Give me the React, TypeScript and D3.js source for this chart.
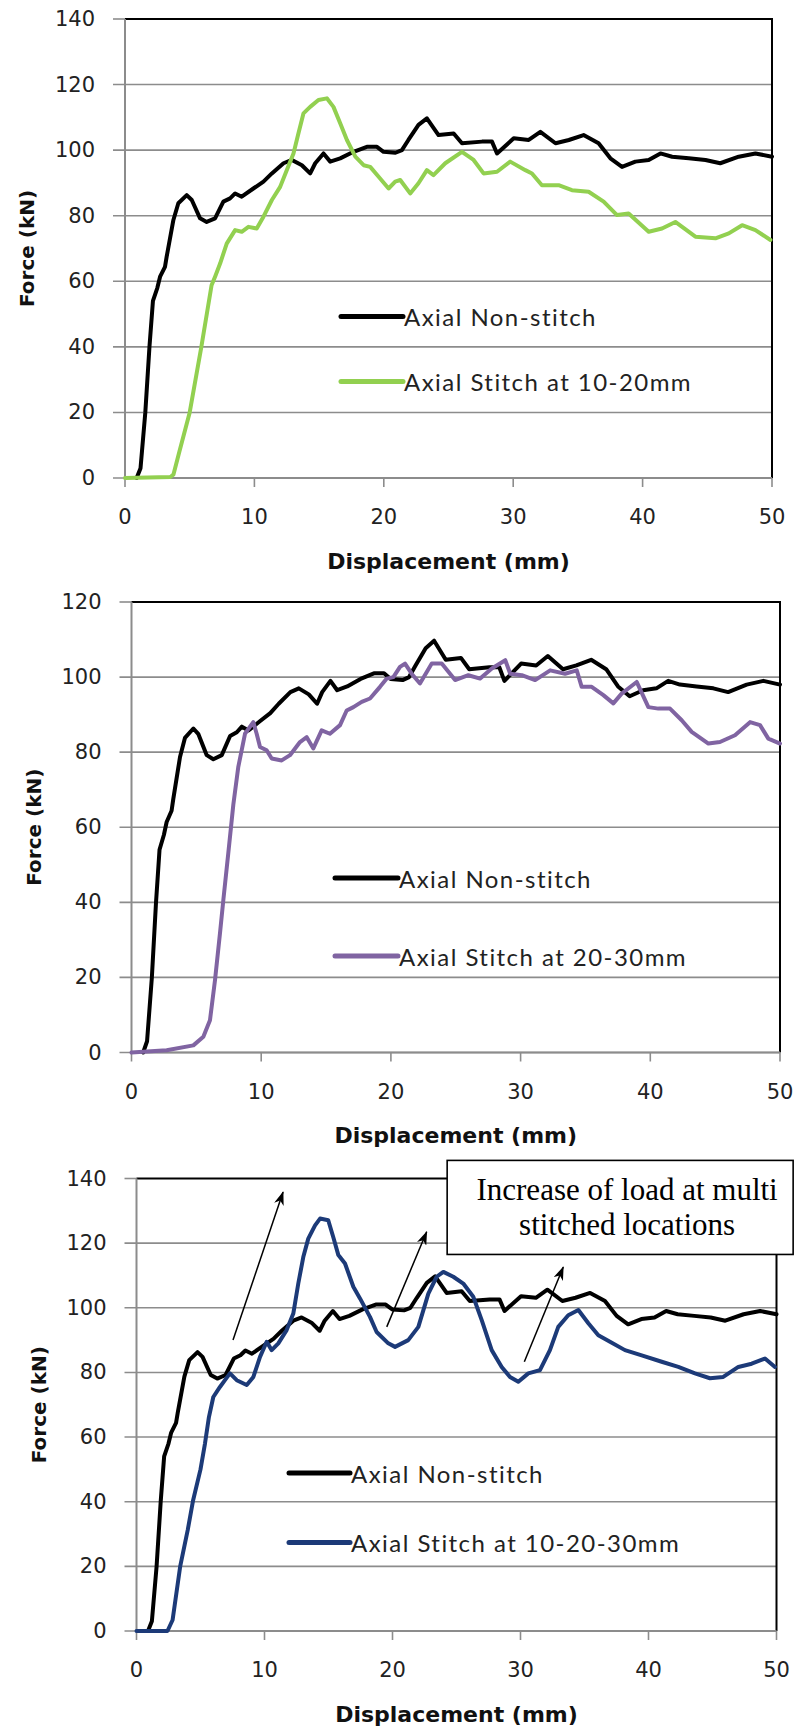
import React from 'react'
import * as d3 from 'd3'

// force-displacement curves (x in mm, y in kN)
const nonStitch: [number, number][] = [
  [0.9, 0], [1.2, 3], [1.57, 20], [1.89, 40], [2.16, 54], [2.5, 58], [2.71, 61.4], [3.09, 64.4],
  [3.22, 67.5], [3.74, 78.7], [4.12, 83.8], [4.77, 86.3], [5.16, 84.8], [5.8, 79.2], [6.31, 78.1],
  [6.96, 79.2], [7.6, 84.3], [8.12, 85.3], [8.51, 86.8], [9.02, 85.8], [9.92, 88.3], [10.7, 90.4],
  [11.35, 92.9], [12.25, 96.0], [12.9, 97.0], [13.67, 95.4], [14.31, 92.9], [14.7, 96.0],
  [15.34, 99.0], [15.86, 96.5], [16.63, 97.5], [17.66, 99.5], [18.69, 101.0], [19.47, 101.0],
  [19.98, 99.5], [20.9, 99.2], [21.4, 100], [21.9, 103.1], [22.68, 107.7], [23.33, 109.7],
  [24.23, 104.6], [25.4, 105.1], [26.04, 102.1], [27.59, 102.6], [28.36, 102.6], [28.75, 99.0],
  [30.04, 103.6], [31.2, 103.1], [32.1, 105.6], [33.27, 102.1], [34.3, 103.1], [35.44, 104.6],
  [36.6, 102.1], [37.51, 97.5], [38.41, 94.9], [39.44, 96.5], [40.47, 97.0], [41.38, 99.0],
  [42.28, 98.0], [43.57, 97.5], [44.86, 97.0], [46.0, 96.0], [47.43, 98.0], [48.72, 99.0], [50, 98.0],
]

const stitch1020: [number, number][] = [
  [0, 0], [3.5, 0.3], [3.74, 1], [4.2, 8], [5.0, 20], [5.9, 40], [6.69, 58.8], [6.96, 61.4],
  [7.35, 65.4], [7.86, 71.5], [8.51, 75.6], [9.02, 75.1], [9.54, 76.6], [10.18, 76.1], [10.7, 79.7],
  [11.35, 84.8], [11.99, 88.8], [12.5, 93.9], [13.02, 99.0], [13.4, 105.1], [13.79, 111.2],
  [14.31, 113.2], [14.95, 115.3], [15.6, 115.8], [16.11, 113.2], [16.63, 108.2], [17.15, 103.1],
  [17.8, 98.0], [18.44, 95.4], [18.95, 94.9], [19.6, 91.9], [20.37, 88.3], [20.88, 90.4],
  [21.27, 90.9], [22.04, 86.8], [22.68, 89.9], [23.33, 93.9], [23.84, 92.4], [24.75, 96.0],
  [26.04, 99.5], [26.94, 97.0], [27.71, 92.9], [28.75, 93.4], [29.77, 96.5], [30.94, 93.9],
  [31.45, 92.9], [32.22, 89.3], [33.51, 89.3], [34.54, 87.8], [35.83, 87.3], [36.99, 84.3],
  [38.02, 80.2], [38.92, 80.7], [40.47, 75.1], [41.5, 76.1], [42.53, 78.1], [44.08, 73.6],
  [45.63, 73.1], [46.66, 74.6], [47.69, 77.1], [48.72, 75.6], [49.88, 72.6],
]

const stitch2030: [number, number][] = [
  [0, 0], [2.71, 0.6], [4.77, 1.9], [5.54, 4.2], [6.05, 8.6], [6.44, 19.3], [6.82, 31.7],
  [7.08, 40.6], [7.46, 53.0], [7.85, 66], [8.23, 76], [8.75, 84.9], [9.39, 88.0], [9.65, 84.9],
  [9.91, 81.4], [10.42, 80.5], [10.81, 78.3], [11.58, 77.8], [12.22, 79.2], [12.99, 82.7],
  [13.51, 84.0], [14.02, 81.0], [14.66, 85.8], [15.3, 84.9], [16.08, 87.2], [16.59, 91.1],
  [17.11, 92.0], [17.75, 93.4], [18.39, 94.3], [19.16, 97.4], [19.68, 99.6], [20.19, 100.0],
  [20.7, 102.7], [21.09, 103.6], [21.6, 100.9], [22.24, 98.3], [23.15, 103.6], [23.92, 103.6],
  [24.95, 99.2], [25.97, 100.5], [26.88, 99.6], [27.78, 102.3], [28.82, 104.5], [29.2, 100.9],
  [30.09, 100.5], [31.12, 99.2], [32.28, 101.8], [33.43, 100.9], [34.33, 101.8], [34.71, 97.4],
  [35.48, 97.4], [36.38, 95.2], [37.15, 93.0], [37.79, 95.6], [38.95, 98.7], [39.85, 92.0],
  [40.62, 91.6], [41.52, 91.6], [42.42, 88.5], [43.19, 85.4], [44.48, 82.3], [45.37, 82.7],
  [46.53, 84.5], [47.69, 88.0], [48.46, 87.2], [49.1, 83.6], [50, 82.3],
]

const stitch102030: [number, number][] = [
  [0, 0], [2.42, 0], [2.82, 3.4], [3.41, 19.9], [4.0, 31.2], [4.41, 40.2], [5.0, 50], [5.35, 58],
  [5.65, 66], [6.0, 72.4], [6.52, 75.5], [6.91, 77.6], [7.3, 79.7], [7.83, 77.6], [8.61, 76.1],
  [9.13, 78.6], [9.65, 84.8], [10.17, 89.5], [10.56, 86.9], [11.08, 89.0], [11.73, 93.1],
  [12.25, 98.2], [12.64, 107.5], [13.03, 115.7], [13.42, 121.4], [13.95, 125.5], [14.34, 127.6],
  [14.98, 127.1], [15.37, 121.9], [15.77, 116.3], [16.29, 113.7], [16.94, 106.5], [17.46, 102.9],
  [18.24, 97.2], [18.76, 92.5], [19.67, 89.0], [20.2, 87.9], [21.23, 90.0], [22.02, 94.1],
  [22.8, 104.4], [23.45, 109.6], [23.97, 111.1], [24.75, 109.6], [25.53, 107.5], [26.31, 103.4],
  [26.97, 96.2], [27.75, 86.9], [28.53, 81.7], [29.18, 78.6], [29.83, 77.1], [30.61, 79.7],
  [31.52, 80.7], [32.3, 86.9], [32.95, 94.1], [33.73, 97.7], [34.52, 99.3], [35.3, 95.2],
  [36.08, 91.5], [36.99, 89.5], [38.16, 86.9], [39.47, 85.3], [41.03, 83.3], [42.33, 81.7],
  [43.63, 79.7], [44.8, 78.2], [45.84, 78.6], [47.02, 81.7], [48.06, 82.7], [49.1, 84.3], [49.88, 81.7],
]

const xTicks = [0, 10, 20, 30, 40, 50]
const yTicks140 = [0, 20, 40, 60, 80, 100, 120, 140]
const yTicks120 = [0, 20, 40, 60, 80, 100, 120]

const nonStitchLabel = 'Axial Non-stitch'
const xTitle = 'Displacement (mm)'
const yTitle = 'Force (kN)'
const noteLines = ['Increase of load at multi', 'stitched locations']

// annotation arrows in data units of the third chart: [x0, y0, x1, y1]
const noteArrows = [
  [7.54, 90.0, 11.45, 135.8],
  [19.55, 94.1, 22.67, 123.5],
  [30.3, 83.3, 33.34, 112.6],
]
// note box in data units: x from, x to, y top, y bottom
const noteBox = [24.27, 51.3, 145.6, 116.5]

const panels = [
  {
    left: 125, top: 19, right: 772, bottom: 478, yMax: 140, yTicks: yTicks140,
    data: stitch1020, color: '#92d050', label: 'Axial Stitch at 10-20mm',
    legend: { x: 341, y: 316.5, gap: 65, len: 62 }, note: false,
  },
  {
    left: 131.5, top: 602, right: 780, bottom: 1052.5, yMax: 120, yTicks: yTicks120,
    data: stitch2030, color: '#8064a2', label: 'Axial Stitch at 20-30mm',
    legend: { x: 335, y: 878, gap: 78, len: 63 }, note: false,
  },
  {
    left: 136.5, top: 1178.5, right: 776.5, bottom: 1631, yMax: 140, yTicks: yTicks140,
    data: stitch102030, color: '#1c3a78', label: 'Axial Stitch at 10-20-30mm',
    legend: { x: 289, y: 1473, gap: 69.5, len: 61 }, note: true,
  },
]

const gridColor = '#8c8c8c'
const tickFont = '"DejaVu Sans", Verdana, sans-serif'
const legendFont = 'Lato, "Open Sans", sans-serif'

const Panel = ({ p }: { p: typeof panels[number] }) => {
  const x = d3.scaleLinear().domain([0, 50]).range([p.left, p.right])
  const y = d3.scaleLinear().domain([0, p.yMax]).range([p.bottom, p.top])
  const lineGen = d3.line<[number, number]>()
    .x(d => x(d[0]))
    .y(d => y(d[1]))
  const midX = (p.left + p.right) / 2
  const midY = (p.top + p.bottom) / 2

  return (
    <g>
      {/* horizontal grid + y ticks */}
      {p.yTicks.map(t => (
        <g key={'y' + t}>
          <line x1={p.left - 12} x2={t === p.yMax ? p.left : p.right} y1={y(t)} y2={y(t)}
            stroke={gridColor} strokeWidth={1.6} />
          <text x={p.left - 30} y={y(t)} textAnchor='end' dominantBaseline='central'
            fontFamily={tickFont} fontSize={21} fill='#222'>{t}</text>
        </g>
      ))}
      {/* plot border: black top/right */}
      <path d={`M${p.left},${p.top}H${p.right}V${p.bottom}`} fill='none' stroke='#000' strokeWidth={2} />
      {/* axes */}
      <line x1={p.left} x2={p.left} y1={p.top} y2={p.bottom} stroke={gridColor} strokeWidth={2} />
      <line x1={p.left} x2={p.right} y1={p.bottom} y2={p.bottom} stroke={gridColor} strokeWidth={2} />
      {xTicks.map(t => (
        <g key={'x' + t}>
          <line x1={x(t)} x2={x(t)} y1={p.bottom} y2={p.bottom + 9} stroke={gridColor} strokeWidth={1.6} />
          <text x={x(t)} y={p.bottom + 39} textAnchor='middle' dominantBaseline='central'
            fontFamily={tickFont} fontSize={21} fill='#222'>{t}</text>
        </g>
      ))}

      {/* series */}
      <path d={lineGen(nonStitch) ?? ''} fill='none' stroke='#000' strokeWidth={4}
        strokeLinejoin='round' strokeLinecap='round' />
      <path d={lineGen(p.data) ?? ''} fill='none' stroke={p.color} strokeWidth={4}
        strokeLinejoin='round' strokeLinecap='round' />

      {/* legend */}
      {[{ c: '#000', t: nonStitchLabel }, { c: p.color, t: p.label }].map((it, i) => (
        <g key={'lg' + i} transform={`translate(${p.legend.x},${p.legend.y + i * p.legend.gap})`}>
          <line x1={0} x2={p.legend.len} stroke={it.c} strokeWidth={5} strokeLinecap='round' />
          <text x={p.legend.len + 1} y={0} dominantBaseline='central' fontFamily={legendFont}
            fontSize={24} letterSpacing={1.45} fill='#222'>{it.t}</text>
        </g>
      ))}

      {/* axis titles */}
      <text x={midX} y={p.bottom + 83} textAnchor='middle' dominantBaseline='central'
        fontFamily={tickFont} fontWeight='bold' fontSize={22} fill='#111'>{xTitle}</text>
      <text transform={`translate(${p.left - 98},${midY}) rotate(-90)`} textAnchor='middle'
        dominantBaseline='central' fontFamily={tickFont} fontWeight='bold' fontSize={20}
        fill='#111'>{yTitle}</text>

      {p.note && (
        <g>
          {noteArrows.map((a, i) => (
            <line key={'ar' + i} x1={x(a[0])} y1={y(a[1])} x2={x(a[2])} y2={y(a[3])}
              stroke='#000' strokeWidth={1.5} markerEnd='url(#arrowHead)' />
          ))}
          <rect x={x(noteBox[0])} y={y(noteBox[2])} width={x(noteBox[1]) - x(noteBox[0])}
            height={y(noteBox[3]) - y(noteBox[2])} fill='#fff' stroke='#000' strokeWidth={1.6} />
          {noteLines.map((t, i) => (
            <text key={'nt' + i} x={x(38.33)} y={y(noteBox[2]) + 40 + i * 35} textAnchor='middle'
              fontFamily='"Liberation Serif", "Times New Roman", serif' fontSize={31} fill='#000'>{t}</text>
          ))}
        </g>
      )}
    </g>
  )
}

export default function App() {
  return (
    <div style={{ position: 'absolute', left: 0, top: 0 }}>
      <svg width={795} height={1728} style={{ display: 'block', background: '#fff' }}>
        <defs>
          <marker id='arrowHead' viewBox='0 0 14 10' refX={13} refY={5} markerWidth={14}
            markerHeight={10} markerUnits='userSpaceOnUse' orient='auto'>
            <path d='M0,0 L14,5 L0,10 L4,5 Z' fill='#000' />
          </marker>
        </defs>
        {panels.map((p, i) => <Panel key={i} p={p} />)}
      </svg>
    </div>
  )
}
